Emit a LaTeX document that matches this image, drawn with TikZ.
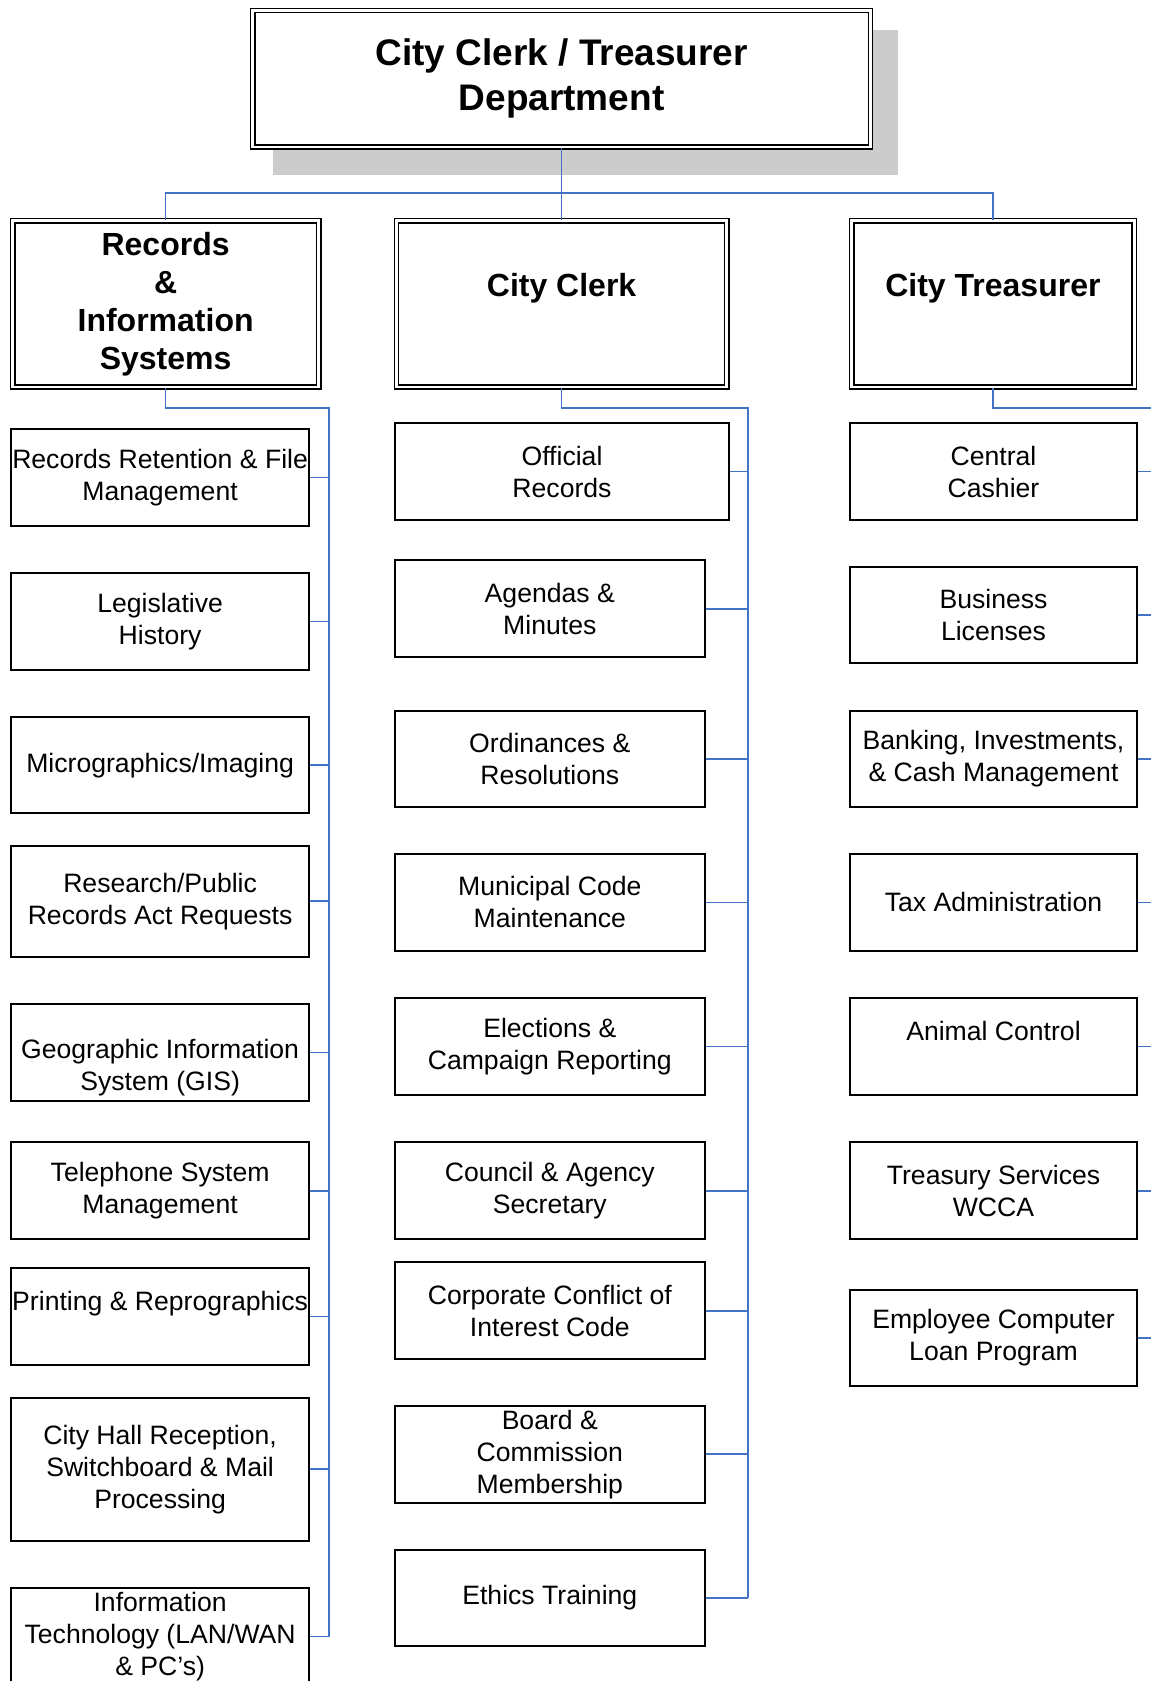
\documentclass[tikz,border=0pt]{standalone}
\usepackage{fontspec}
\setmainfont{Liberation Sans}
\definecolor{linkblue}{RGB}{68,114,196}

\begin{document}
\begin{tikzpicture}[x=0.5pt, y=-0.5pt,
  leaf/.style={draw, line width=1pt, fill=white, anchor=west, minimum height=48.25pt, inner sep=0pt, align=center, font=\fontsize{13.3}{16}\selectfont},
  head/.style={draw, double, double distance=1.4pt, line width=0.75pt, fill=white, inner sep=0pt, align=center, minimum height=83.2pt, font=\bfseries\fontsize{16}{19}\selectfont},
  link/.style={draw=linkblue, line width=0.85pt}]
  \useasboundingbox (0,0) rectangle (1151,1681);
  \clip (0,0) rectangle (1151,1681);
  % department box with its shadow
  \fill[black!20] (273.3,30) rectangle (898.1,174.7);
  \node[head, minimum width=308.9pt, minimum height=68.25pt, font=\bfseries\fontsize{18.5}{22.5}\selectfont] (dept) at (561.6,78.8) {City Clerk / Treasurer\\Department};
  % the three divisions
  \node[head, minimum width=153pt] (recs) at (165.6,303.8) {Records\\\&\\Information\\Systems};
  \node[head, minimum width=165.2pt] (clerk) at (561.6,303.8) {City Clerk\\~};
  \node[head, minimum width=141.2pt] (treas) at (992.9,303.8) {City Treasurer\\~};
  \coordinate (bus) at (561.6,192.9);
  \draw[link] (dept.south) -- (clerk.north);
  \draw[link] (recs.north) |- (bus) -| (treas.north);
  % records & information systems
  \foreach \y/\h/\t [count=\i] in {
    477.4/48.25/{Records Retention \& File\\Management},
    621.6/48.25/{Legislative\\History},
    765.2/48.25/{Micrographics/Imaging},
    901.3/55.75/{Research/Public\\Records Act Requests},
    1052.4/48.25/{\vphantom{Ag}\\Geographic Information\\System (GIS)},
    1190.7/48.25/{Telephone System\\Management},
    1316.6/48.25/{Printing \& Reprographics\\~},
    1469.3/71.8/{City Hall Reception,\\Switchboard \& Mail\\Processing},
    1636.5/48.25/{Information\\Technology (LAN/WAN\\\& PC’s)}}
    \node[leaf, minimum width=149pt, minimum height=\h pt] (r\i) at (10.1,\y) {\t};
  \coordinate (rs) at (329,408.3);
  \draw[link] (recs.south) |- (rs) -- (rs |- r9.east);
  \foreach \i in {1,...,9} \draw[link] (r\i.east) -- (r\i.east -| rs);
  % city clerk
  \foreach \y/\w/\t [count=\i] in {
    471.5/167.2/{Official\\Records},
    608.7/155/{Agendas \&\\Minutes},
    758.8/155/{Ordinances \&\\Resolutions},
    902.4/155/{Municipal Code\\Maintenance},
    1046.5/155/{Elections \&\\Campaign Reporting},
    1190.7/155/{Council \& Agency\\Secretary},
    1310.7/155/{Corporate Conflict of\\Interest Code},
    1454.3/155/{Board \&\\Commission\\Membership},
    1597.9/155/{Ethics Training}}
    \node[leaf, minimum width=\w pt] (c\i) at (393.8,\y) {\t};
  \coordinate (cs) at (748,408.3);
  \draw[link] (clerk.south) |- (cs) -- (cs |- c9.east);
  \foreach \i in {1,...,9} \draw[link] (c\i.east) -- (c\i.east -| cs);
  % city treasurer
  \foreach \y/\t [count=\i] in {
    471.5/{Central\\Cashier},
    615.2/{Business\\Licenses},
    758.8/{Banking, Investments,\\\& Cash Management},
    902.4/{Tax Administration},
    1046.5/{Animal Control\\~},
    1190.7/{Treasury Services\\WCCA},
    1338/{Employee Computer\\Loan Program}}
    \node[leaf, minimum width=143.2pt] (t\i) at (849.3,\y) {\t};
  \coordinate (ts) at (1160,408.3);
  \draw[link] (treas.south) |- (ts) -- (ts |- t7.east);
  \foreach \i in {1,...,7} \draw[link] (t\i.east) -- (t\i.east -| ts);
\end{tikzpicture}
\end{document}
